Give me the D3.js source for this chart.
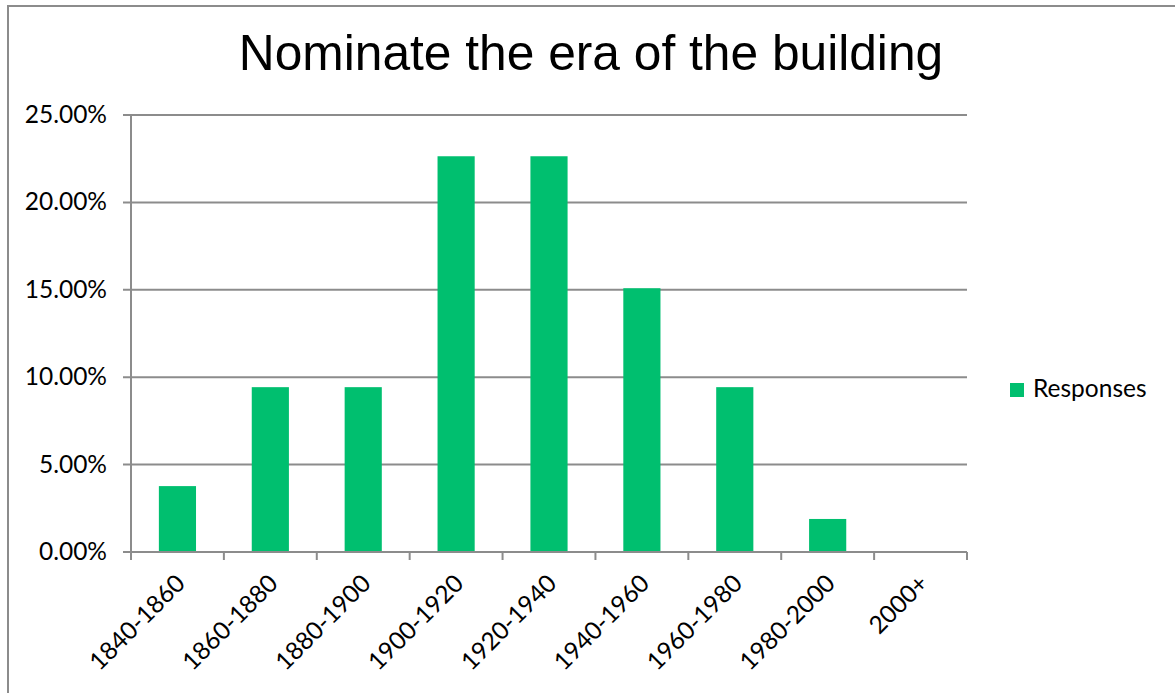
<!DOCTYPE html>
<html><head><meta charset="utf-8">
<script src="https://cdn.jsdelivr.net/npm/d3@7"></script>
<style>body{margin:0;background:#fff}svg{display:block}</style>
</head><body>
<script>
const categories = ["1840-1860","1860-1880","1880-1900","1900-1920","1920-1940","1940-1960","1960-1980","1980-2000","2000+"];
const responses = [0.0377,0.0943,0.0943,0.2264,0.2264,0.1509,0.0943,0.0189,0];
const yTicks = [0,0.05,0.10,0.15,0.20,0.25];
const seriesName = "Responses";
const title = "Nominate the era of the building";

(function(){
const W=1175,H=693;
const svg=d3.select("body").append("svg").attr("width",W).attr("height",H);
svg.append("rect").attr("width",W).attr("height",H).attr("fill","#fff");
// outer border
svg.append("path").attr("d",`M8,${H} L8,6 L${W},6`).attr("fill","none").attr("stroke","#8c8c8c").attr("stroke-width",2);

const pL=131,pR=967,pT=115,pB=552;
const x=d3.scaleBand().domain(categories).range([pL,pR]).paddingInner(0.6).paddingOuter(0.3);
const xb=d3.scaleBand().domain(categories).range([pL,pR]);
const y=d3.scaleLinear().domain([0,0.25]).range([pB,pT]);
const gray="#8c8c8c";
const fnt="Lato, 'Open Sans', sans-serif";

// gridlines
svg.append("g").selectAll("line").data(yTicks).join("line")
 .attr("x1",pL-8).attr("x2",pR).attr("y1",d=>y(d)).attr("y2",d=>y(d))
 .attr("stroke",gray).attr("stroke-width",2);
// y axis
svg.append("line").attr("x1",pL).attr("x2",pL).attr("y1",pT).attr("y2",pB+1).attr("stroke",gray).attr("stroke-width",2);
svg.append("g").selectAll("text").data(yTicks).join("text")
 .attr("x",107).attr("y",d=>y(d)+8).attr("text-anchor","end")
 .attr("font-family",fnt).attr("font-size",24.5).attr("fill","#000")
 .text(d=>d3.format(".2%")(d));
// bars
svg.append("g").selectAll("rect").data(categories).join("rect")
 .attr("x",d=>x(d)).attr("width",x.bandwidth())
 .attr("y",(d,i)=>y(responses[i])).attr("height",(d,i)=>pB-y(responses[i]))
 .attr("fill","#00BF6F");
// x axis ticks
const xt=categories.map(c=>xb(c)).concat([pR]);
svg.append("g").selectAll("line").data(xt).join("line")
 .attr("x1",d=>d).attr("x2",d=>d).attr("y1",pB).attr("y2",pB+8)
 .attr("stroke",gray).attr("stroke-width",2);
svg.append("line").attr("x1",pL).attr("x2",pR).attr("y1",pB).attr("y2",pB).attr("stroke",gray).attr("stroke-width",2);
// x labels
svg.append("g").selectAll("text").data(categories).join("text")
 .attr("transform",d=>`translate(${xb(d)+xb.bandwidth()/2+9},${pB+33}) rotate(-45)`)
 .attr("text-anchor","end")
 .attr("font-family",fnt).attr("font-size",24.5).attr("fill","#000")
 .text(d=>d);
// title
svg.append("text").attr("x",591).attr("y",70).attr("text-anchor","middle")
 .attr("font-family","'Liberation Sans', Arial, sans-serif").attr("font-size",49.7).attr("fill","#000").text(title);
// legend
svg.append("rect").attr("x",1010).attr("y",383).attr("width",14).attr("height",14).attr("fill","#00BF6F");
svg.append("text").attr("x",1033).attr("y",397).attr("font-family",fnt).attr("font-size",24.5).attr("fill","#000").text(seriesName);
})();
</script>
</body></html>
